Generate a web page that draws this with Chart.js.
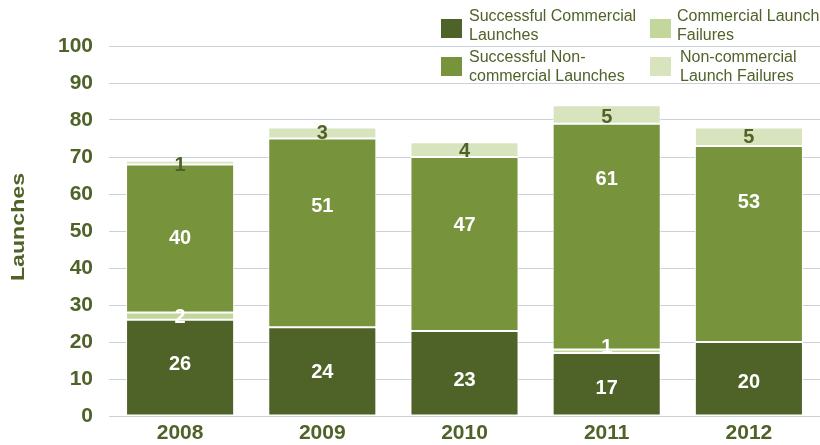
<!DOCTYPE html>
<html>
<head>
<meta charset="utf-8">
<script src="https://cdn.jsdelivr.net/npm/chart.js@4"></script>
<style>
  html, body { margin: 0; padding: 0; background: #fff; }
  #wrap { position: relative; width: 820px; height: 445px; }
  canvas { position: absolute; left: 0; top: 0; }
  .lg { position: absolute; font-family: "Liberation Sans", Arial, sans-serif; font-size: 16px; line-height: 19px; color: #4f6228; }
  .lg .box { position: absolute; width: 21px; height: 19px; }
  .lg .txt { position: absolute; top: 0; white-space: nowrap; }
</style>
</head>
<body>
<div id="wrap">
  <canvas id="c" width="820" height="445"></canvas>
</div>
<script>
const categories = ["2008", "2009", "2010", "2011", "2012"];
const successfulCommercial = [26, 24, 23, 17, 20];
const commercialFailures = [2, 0, 0, 1, 0];
const successfulNonCommercial = [40, 51, 47, 61, 53];
const nonCommercialFailures = [1, 3, 4, 5, 5];
const yTicks = [0, 10, 20, 30, 40, 50, 60, 70, 80, 90, 100];

const seriesNames = ["Successful Commercial Launches", "Commercial Launch Failures", "Successful Non-commercial Launches", "Non-commercial Launch Failures"];
const legendLines = [["Successful Commercial", "Launches"], ["Commercial Launch", "Failures"], ["Successful Non-", "commercial Launches"], ["Non-commercial", "Launch Failures"]];
const colors = ["#4f6228", "#c3d69b", "#77933c", "#d7e4bd"];
const labelColors = ["#ffffff", "#ffffff", "#ffffff", "#4f6228"];
const TEXT = "#4f6228";
const FONT = "'Liberation Sans', Arial, sans-serif";

// Style: vertical nudge (px) of each value label from its segment centre, as placed in the original
const labelNudgePx = [
  [-4, 0, 6, 3, 3],
  [0, 0, 0, -5, 0],
  [-1, -27, -19, -58, -42],
  [2, 0, 1, 2, 0]
];

// HTML legend (transparent, gridlines show through)
// [boxLeft, boxTop, textLeft, textTop]
const legendPos = [[441, 19, 469, 6], [650, 19, 677, 6], [441, 57, 469, 47], [650, 57, 680, 47]];
const wrap = document.getElementById("wrap");
legendLines.forEach((lines, i) => {
  const p = legendPos[i];
  const box = document.createElement("div");
  box.className = "lg";
  box.innerHTML = '<div class="box" style="left:' + p[0] + 'px;top:' + p[1] + 'px;background:' + colors[i] + '"></div>' +
    '<div class="txt" style="left:' + p[2] + 'px;top:' + p[3] + 'px">' + lines.join("<br>") + '</div>';
  wrap.appendChild(box);
});

const valueLabels = {
  id: "valueLabels",
  afterDatasetsDraw(chart) {
    const ctx = chart.ctx;
    ctx.save();
    ctx.font = "bold 20px " + FONT;
    ctx.textAlign = "center";
    ctx.textBaseline = "middle";
    chart.data.datasets.forEach((ds, di) => {
      const meta = chart.getDatasetMeta(di);
      meta.data.forEach((el, i) => {
        const v = ds.data[i];
        if (!v) return;
        ctx.fillStyle = labelColors[di];
        ctx.fillText(String(v), el.x, (el.y + el.base) / 2 + 1 + labelNudgePx[di][i]);
      });
    });
    ctx.restore();
  }
};

const bgAndTitle = {
  id: "bgAndTitle",
  beforeDraw(chart) {
    const ctx = chart.ctx;
    ctx.save();
    ctx.fillStyle = "#ffffff";
    ctx.fillRect(0, 0, chart.width, chart.height);
    ctx.restore();
  },
  afterDraw(chart) {
    const ctx = chart.ctx;
    ctx.save();
    ctx.translate(19, 227);
    ctx.rotate(-Math.PI / 2);
    ctx.scale(1.22, 1);
    ctx.font = "bold 19px " + FONT;
    ctx.fillStyle = TEXT;
    ctx.textAlign = "center";
    ctx.textBaseline = "middle";
    ctx.fillText("Launches", 0, 0);
    ctx.restore();
  }
};

const seriesData = [successfulCommercial, commercialFailures, successfulNonCommercial, nonCommercialFailures];

new Chart(document.getElementById("c"), {
  type: "bar",
  data: {
    labels: categories,
    datasets: seriesData.map((d, i) => ({
      label: seriesNames[i],
      data: d,
      backgroundColor: colors[i],
      borderColor: "#ffffff",
      borderWidth: 1,
      borderSkipped: false,
      barPercentage: 0.76,
      categoryPercentage: 1.0
    }))
  },
  options: {
    responsive: false,
    animation: false,
    layout: { padding: { top: 46, right: 0, left: 0, bottom: 0 } },
    plugins: {
      legend: { display: false },
      tooltip: { enabled: false }
    },
    scales: {
      x: {
        stacked: true,
        grid: { display: false, drawTicks: false },
        border: { display: false },
        ticks: { color: TEXT, font: { family: FONT, size: 21, weight: "bold" }, padding: 5 },
        afterFit(s) { s.height = 29; }
      },
      y: {
        stacked: true,
        min: 0,
        max: 100,
        afterBuildTicks(s) { s.ticks = yTicks.map(v => ({ value: v })); },
        grid: { color: "#c9d1da", lineWidth: 1, drawTicks: false },
        border: { display: false },
        ticks: { color: TEXT, font: { family: FONT, size: 21, weight: "bold" }, padding: 16 },
        afterFit(s) { s.width = 109; }
      }
    }
  },
  plugins: [bgAndTitle, valueLabels]
});
</script>
</body>
</html>
